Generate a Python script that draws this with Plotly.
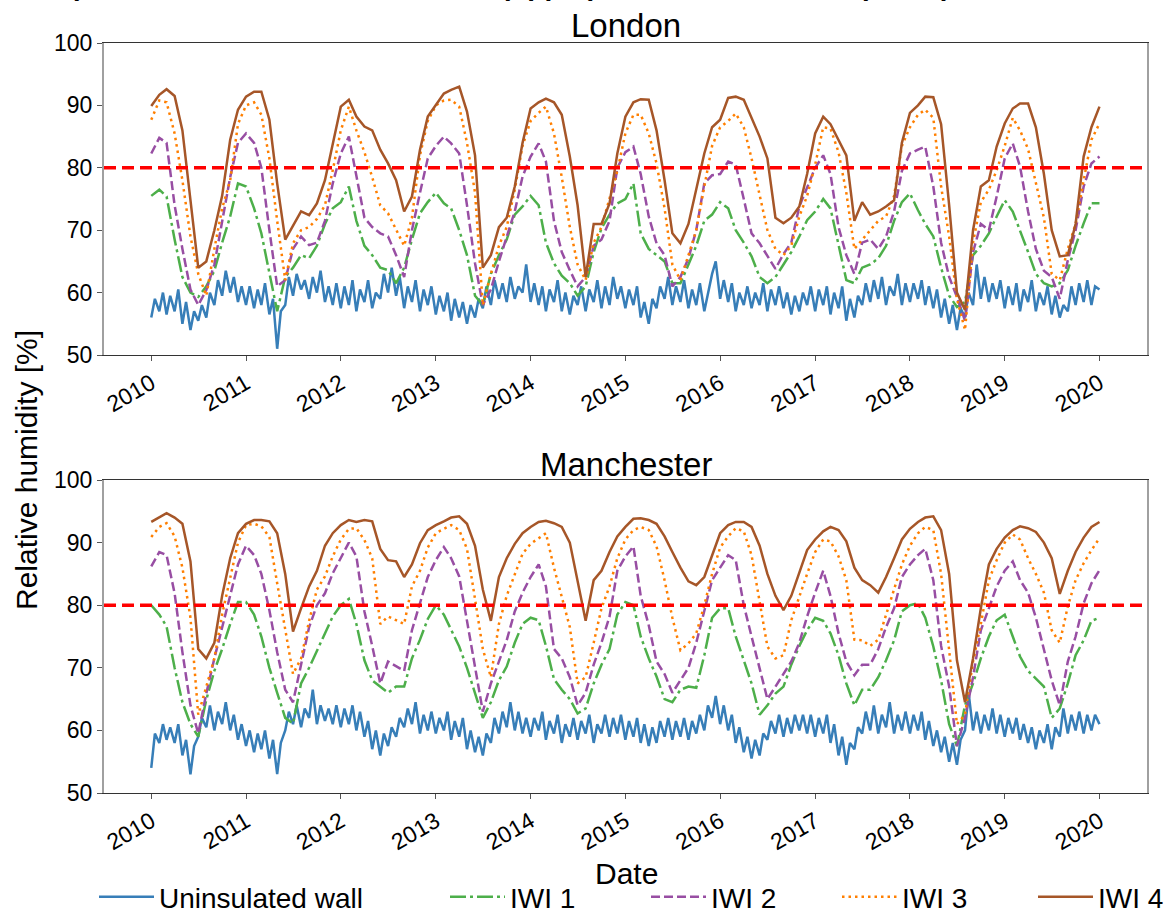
import pandas as pd
import plotly.graph_objects as go

# ---------------- data ----------------
months = pd.date_range("2010-01-01", periods=121, freq="MS")
half_months = pd.date_range("2010-01-01", periods=241, freq="SMS")

series_names = ["Uninsulated wall", "IWI 1", "IWI 2", "IWI 3", "IWI 4"]
year_ticks = [str(y) for y in range(2010, 2021)]
y_ticks = [50, 60, 70, 80, 90, 100]
threshold = 80

# ---- London ----
lon_uninsulated = [
    56.0, 59.0, 57.0, 60.0, 56.5, 59.5, 57.0, 60.5, 55.0, 58.5, 54.0, 57.0, 55.5, 58.0, 56.0, 60.0, 58.0, 62.0, 59.5, 63.5, 60.0, 62.5, 58.5, 61.0,
    58.0, 61.0, 57.5, 60.5, 58.0, 61.5, 56.5, 59.0, 51.0, 57.0, 58.0, 62.5, 59.5, 63.0, 60.5, 62.0, 59.0, 62.5, 60.0, 63.5, 58.5, 61.0, 58.0, 61.5,
    57.5, 61.0, 58.0, 62.0, 57.0, 60.5, 58.5, 62.0, 57.5, 60.0, 59.0, 63.0, 60.0, 64.0, 59.5, 62.5, 57.5, 61.0, 58.5, 62.0, 57.0, 60.5, 58.0, 61.0,
    56.5, 59.5, 57.0, 60.0, 55.5, 59.0, 56.0, 58.5, 55.0, 58.0, 56.0, 59.0, 57.5, 61.0, 58.0, 62.0, 59.0, 61.5, 58.5, 62.5, 59.0, 61.0, 60.0, 64.5,
    58.5, 61.5, 58.0, 61.0, 57.0, 60.5, 58.5, 62.0, 57.0, 60.0, 56.5, 59.5, 58.0, 61.0, 57.0, 60.5, 58.5, 62.0, 57.5, 61.0, 58.0, 62.5, 59.0, 61.0,
    57.5, 60.5, 58.0, 61.0, 56.0, 58.5, 55.0, 59.0, 57.5, 61.0, 59.0, 62.5, 58.0, 61.0, 58.5, 62.0, 57.5, 60.5, 58.0, 61.5, 57.0, 60.0, 63.0, 65.0,
    59.0, 62.0, 58.5, 61.5, 57.0, 60.0, 58.0, 61.0, 57.5, 60.0, 58.0, 61.5, 57.0, 60.5, 58.0, 61.0, 57.5, 60.0, 56.5, 59.5, 57.0, 60.0, 58.0, 61.0,
    57.0, 60.5, 58.0, 61.0, 56.5, 60.0, 57.5, 61.0, 55.5, 59.0, 56.0, 59.5, 58.0, 61.5, 58.5, 62.0, 59.0, 62.5, 58.0, 61.0, 59.5, 63.0, 58.0, 61.5,
    58.5, 61.5, 59.0, 62.0, 58.0, 61.0, 57.5, 60.5, 56.0, 59.0, 55.0, 58.0, 54.0, 57.5, 56.0, 60.0, 58.0, 64.5, 59.0, 62.5, 58.5, 61.5, 59.0, 62.0,
    57.5, 61.0, 58.0, 61.5, 57.0, 60.5, 58.5, 62.0, 57.0, 60.0, 58.0, 61.0, 56.5, 59.5, 56.0, 58.0, 57.0, 61.0, 58.0, 61.5, 58.5, 62.0, 58.0, 61.0,
    60.5,
]
lon_iwi1 = [
    75.5, 76.5, 75.4, 68.5, 62.5, 60.0, 59.3, 61.0, 63.5, 68.0, 72.2, 77.5,
    77.0, 73.5, 69.5, 63.0, 57.0, 62.5, 64.0, 66.0, 65.5, 67.5, 71.0, 73.5,
    74.5, 77.0, 71.5, 67.5, 66.0, 64.0, 63.6, 61.5, 64.0, 68.5, 72.7, 74.5,
    76.0, 74.3, 73.5, 70.0, 66.0, 59.5, 58.0, 63.0, 66.0, 68.5, 72.5, 73.8,
    75.5, 74.0, 68.0, 64.7, 62.7, 61.5, 59.5, 61.0, 66.5, 70.3, 72.5, 74.3,
    75.0, 77.5, 69.5, 67.0, 66.0, 65.0, 61.5, 61.5, 64.5, 67.5, 71.5, 72.5,
    74.5, 73.5, 70.0, 68.0, 65.8, 62.5, 61.5, 62.5, 64.5, 66.5, 69.0, 71.6,
    73.0, 75.0, 73.5, 67.5, 62.0, 61.5, 64.0, 64.5, 65.5, 67.5, 71.5, 74.5,
    75.9, 73.2, 71.0, 69.0, 64.0, 59.5, 57.7, 58.5, 66.0, 67.5, 69.5, 72.2,
    74.8, 73.0, 70.0, 66.5, 63.0, 61.5, 61.0, 61.5, 63.6, 67.5, 71.1, 74.3,
    74.3,
]
lon_iwi2 = [
    82.3, 84.8, 84.0, 74.0, 67.0, 60.5, 58.0, 60.4, 64.5, 71.5, 78.5, 84.0,
    85.5, 84.0, 80.0, 70.0, 61.0, 62.0, 67.0, 69.0, 67.6, 68.0, 71.5, 77.5,
    82.3, 85.0, 79.0, 72.0, 70.5, 69.5, 69.0, 66.0, 62.5, 70.0, 76.0, 81.5,
    83.5, 85.0, 83.9, 82.3, 74.0, 64.7, 58.0, 60.5, 65.0, 69.0, 73.0, 78.6,
    81.8, 83.9, 81.0, 71.5, 66.5, 63.6, 61.0, 62.5, 67.5, 68.5, 71.5, 80.0,
    82.5, 83.4, 79.0, 72.2, 67.9, 66.0, 61.0, 62.5, 65.5, 70.0, 77.5, 78.8,
    79.0, 81.0, 80.5, 75.0, 69.5, 67.9, 65.8, 63.8, 66.2, 68.0, 73.8, 77.0,
    80.0, 82.0, 79.0, 70.5, 66.0, 63.0, 68.0, 68.5, 67.0, 69.0, 73.0, 79.5,
    82.3, 82.9, 83.4, 77.0, 68.0, 62.5, 59.3, 55.5, 66.5, 71.0, 70.0, 75.4,
    81.5, 83.9, 80.2, 73.0, 67.0, 63.5, 62.5, 59.0, 65.2, 70.0, 77.0, 80.7,
    81.8,
]
lon_iwi3 = [
    87.7, 90.8, 90.5, 85.5, 78.0, 69.0, 63.0, 59.5, 67.0, 73.5, 78.0, 87.0,
    90.0, 90.5, 88.5, 81.5, 71.5, 62.0, 67.9, 70.0, 70.5, 71.8, 74.0, 79.6,
    86.0, 89.8, 86.0, 82.5, 78.5, 74.0, 72.7, 70.0, 67.5, 72.0, 82.0, 87.5,
    90.0, 90.8, 90.9, 89.8, 84.0, 76.0, 58.0, 63.0, 67.5, 70.5, 76.5, 83.5,
    87.5, 88.8, 89.8, 85.5, 78.5, 70.5, 64.5, 62.0, 68.0, 70.5, 75.0, 79.5,
    85.5, 88.5, 88.5, 85.5, 80.7, 73.5, 64.5, 62.0, 66.0, 70.0, 77.0, 83.5,
    86.5, 87.5, 88.7, 86.5, 81.5, 75.5, 70.0, 67.0, 66.0, 67.5, 72.2, 75.5,
    80.5, 86.5, 86.3, 82.5, 76.0, 67.0, 68.5, 70.0, 71.5, 72.2, 75.5, 83.5,
    86.5, 88.5, 89.3, 88.0, 77.0, 69.0, 59.0, 54.0, 68.0, 74.5, 76.5, 79.6,
    83.5, 88.0, 86.0, 83.0, 77.5, 72.0, 63.0, 62.0, 67.0, 71.0, 78.0, 84.5,
    87.1,
]
lon_iwi4 = [
    89.9, 91.7, 92.6, 91.5, 86.0, 74.5, 64.0, 65.0, 70.0, 75.5, 84.5, 89.3,
    91.4, 92.2, 92.2, 87.7, 77.5, 68.5, 70.6, 73.0, 72.4, 74.3, 78.0, 83.9,
    89.8, 90.9, 88.2, 86.6, 86.0, 82.9, 80.7, 78.0, 73.0, 75.4, 82.9, 88.2,
    90.0, 91.9, 92.5, 93.0, 89.0, 82.0, 64.0, 66.0, 70.5, 72.0, 77.0, 84.0,
    89.5, 90.5, 91.1, 90.5, 88.5, 81.8, 74.0, 62.5, 71.0, 71.0, 74.3, 82.3,
    88.2, 90.5, 91.0, 90.9, 86.0, 78.0, 69.5, 67.9, 71.0, 76.5, 82.3, 86.5,
    87.7, 91.2, 91.4, 90.9, 88.0, 85.0, 81.5, 72.0, 71.1, 72.0, 73.8, 79.0,
    85.5, 88.2, 87.0, 84.5, 82.0, 71.5, 74.5, 72.5, 73.0, 73.8, 74.8, 84.0,
    88.8, 90.0, 91.4, 91.3, 87.0, 74.0, 60.0, 57.2, 70.0, 77.0, 78.0, 83.4,
    87.1, 89.5, 90.3, 90.3, 86.5, 79.0, 70.0, 65.8, 66.0, 71.0, 81.8, 86.5,
    89.8,
]

# ---- Manchester ----
man_uninsulated = [
    54.0, 59.5, 58.0, 61.0, 58.5, 60.5, 58.0, 61.0, 56.0, 58.5, 53.0, 57.5, 59.0, 62.0, 60.5, 64.0, 60.0, 63.0, 61.0, 64.5, 60.0, 62.5, 58.5, 61.0,
    57.5, 60.0, 56.5, 59.5, 57.0, 60.0, 55.5, 58.5, 53.0, 58.0, 60.0, 63.0, 61.0, 64.0, 60.5, 63.5, 62.0, 66.5, 61.0, 64.0, 61.5, 63.5, 61.0, 64.0,
    60.5, 63.5, 61.0, 64.0, 60.0, 63.0, 59.0, 61.5, 57.0, 60.0, 56.0, 59.5, 57.5, 60.5, 59.0, 62.0, 60.5, 63.5, 61.0, 64.5, 59.5, 62.5, 60.0, 63.0,
    59.5, 62.0, 60.0, 63.0, 58.5, 61.5, 59.0, 62.0, 57.0, 60.0, 56.5, 59.0, 56.0, 59.5, 58.0, 62.0, 59.5, 63.0, 60.5, 64.5, 60.0, 63.0, 59.5, 62.0,
    59.0, 62.0, 60.0, 63.0, 58.5, 61.5, 59.5, 62.5, 58.0, 61.0, 59.0, 62.0, 58.5, 61.5, 59.5, 62.5, 58.0, 61.0, 59.5, 62.5, 59.0, 62.0, 59.5, 62.5,
    58.5, 61.5, 59.0, 62.0, 58.0, 61.0, 57.5, 60.5, 58.0, 61.5, 59.0, 62.0, 58.5, 61.5, 59.0, 62.0, 58.5, 61.5, 59.5, 62.5, 60.0, 64.0, 62.0, 65.5,
    61.0, 64.0, 60.0, 62.5, 58.0, 60.5, 56.5, 59.0, 55.5, 58.5, 56.0, 59.5, 58.5, 61.5, 59.5, 62.5, 59.0, 62.0, 59.5, 62.5, 60.0, 62.5, 59.5, 62.5,
    59.0, 62.0, 59.5, 62.5, 58.0, 61.0, 56.0, 59.0, 54.5, 58.0, 57.0, 60.5, 59.5, 63.0, 60.0, 64.0, 59.5, 62.5, 60.5, 64.5, 59.5, 62.5, 60.0, 63.0,
    59.5, 62.5, 60.0, 63.0, 58.5, 61.5, 57.5, 60.0, 56.5, 59.0, 55.0, 58.0, 54.5, 58.5, 60.0, 66.0, 60.0, 63.0, 59.5, 62.5, 60.0, 63.5, 59.5, 62.5,
    59.0, 62.0, 59.5, 62.0, 58.5, 61.0, 58.0, 60.5, 57.0, 60.0, 58.0, 61.0, 57.0, 60.5, 59.0, 63.5, 59.5, 62.5, 60.0, 63.0, 59.5, 62.5, 60.0, 62.5,
    61.0,
]
man_iwi1 = [
    80.0, 78.5, 76.6, 70.0, 64.5, 61.0, 59.0, 64.9, 69.5, 73.0, 77.0, 80.5,
    80.5, 78.5, 75.0, 70.0, 66.0, 62.0, 61.1, 67.5, 70.0, 72.8, 75.5, 78.2,
    80.0, 81.0, 77.0, 71.2, 68.0, 67.0, 66.0, 67.0, 67.0, 71.5, 74.5, 77.8,
    80.0, 78.5, 76.0, 73.4, 70.0, 66.0, 62.0, 64.5, 68.0, 70.2, 74.0, 77.0,
    78.0, 77.6, 73.5, 68.2, 66.5, 65.0, 62.7, 63.5, 67.5, 70.5, 73.0, 78.5,
    80.5, 80.0, 75.0, 71.5, 68.6, 65.0, 64.5, 66.5, 67.0, 66.8, 72.0, 78.0,
    79.5, 79.5, 75.0, 71.2, 67.5, 62.5, 64.0, 65.9, 67.0, 70.5, 73.5, 76.0,
    78.0, 77.5, 75.5, 72.0, 67.5, 64.0, 66.5, 66.5, 68.5, 71.2, 74.4, 79.0,
    80.0, 80.3, 78.0, 73.4, 68.0, 61.0, 57.5, 64.0, 67.5, 71.5, 75.0, 77.6,
    78.5, 75.0, 71.8, 69.5, 68.3, 67.0, 62.0, 63.5, 67.5, 72.0, 74.4, 77.5,
    78.0,
]
man_iwi2 = [
    86.2, 88.5, 88.0, 81.9, 72.5, 64.0, 59.5, 65.9, 71.5, 76.5, 81.5, 86.5,
    89.5, 88.0, 85.0, 79.2, 72.5, 66.5, 64.5, 70.5, 76.5, 80.0, 81.9, 85.1,
    87.5, 90.0, 87.8, 79.0, 73.5, 67.5, 71.0, 70.2, 69.5, 76.0, 80.5, 84.5,
    87.2, 89.3, 87.5, 84.6, 77.5, 70.0, 63.0, 67.5, 71.0, 74.4, 79.0, 82.0,
    84.5, 86.5, 83.0, 73.0, 71.5, 68.5, 64.0, 66.0, 70.5, 74.0, 78.2, 85.5,
    87.8, 89.4, 81.5, 76.8, 71.0, 69.0, 66.0, 68.1, 70.0, 74.0, 79.0, 84.0,
    86.0, 88.0, 87.2, 80.0, 75.0, 70.0, 65.0, 67.0, 69.1, 71.0, 74.0, 78.2,
    82.0, 85.5, 81.5, 75.5, 71.0, 68.8, 70.5, 70.5, 73.0, 76.5, 79.5, 84.5,
    86.5, 88.0, 89.0, 84.0, 73.5, 67.0, 57.5, 62.0, 68.5, 76.0, 79.5, 83.0,
    85.5, 87.0, 84.0, 82.0, 78.0, 73.0, 68.0, 64.0, 71.0, 75.0, 80.3, 83.5,
    85.6,
]
man_iwi3 = [
    90.9, 92.5, 93.1, 91.0, 86.0, 78.0, 62.5, 67.0, 71.5, 78.5, 84.6, 90.0,
    92.8, 93.0, 92.6, 90.9, 83.5, 76.0, 69.0, 71.5, 77.5, 82.5, 84.6, 87.8,
    90.5, 92.2, 92.3, 90.4, 87.5, 77.0, 78.2, 77.6, 77.0, 83.0, 85.5, 89.2,
    91.5, 92.2, 92.8, 92.0, 89.0, 81.0, 73.0, 68.5, 77.0, 81.5, 85.0, 88.2,
    89.8, 90.7, 91.5, 86.0, 81.5, 76.5, 67.5, 68.5, 74.0, 79.5, 83.0, 87.5,
    90.5, 92.0, 92.5, 92.0, 89.4, 84.0, 78.0, 72.8, 73.9, 75.5, 80.0, 85.0,
    89.2, 91.0, 92.3, 91.8, 88.0, 80.8, 73.4, 71.5, 72.0, 77.6, 81.4, 85.0,
    88.5, 90.5, 90.2, 87.8, 84.0, 74.5, 74.4, 73.5, 74.5, 78.5, 82.5, 86.5,
    89.5, 91.5, 92.5, 92.0, 85.0, 73.0, 61.0, 62.5, 71.0, 77.0, 84.0, 87.2,
    90.0, 91.3, 90.5, 87.5, 85.0, 82.0, 76.0, 74.0, 79.8, 84.0, 86.7, 88.8,
    90.7,
]
man_iwi4 = [
    93.3, 94.0, 94.7, 94.0, 93.0, 87.0, 73.0, 71.5, 74.0, 81.5, 87.5, 91.5,
    93.0, 93.6, 93.6, 93.4, 91.5, 85.0, 75.8, 79.5, 83.0, 85.5, 89.5, 91.5,
    92.8, 93.6, 93.3, 93.6, 93.4, 89.0, 87.2, 87.0, 84.5, 86.5, 89.9, 92.0,
    92.8, 93.4, 94.0, 94.2, 93.0, 89.5, 82.5, 77.5, 84.5, 87.5, 89.8, 91.5,
    92.5, 93.3, 93.5, 93.1, 92.5, 90.0, 84.0, 77.5, 84.0, 85.5, 88.5, 91.0,
    92.5, 93.8, 93.9, 93.6, 93.0, 91.0, 88.5, 86.0, 83.8, 83.2, 84.5, 88.0,
    91.5, 92.8, 93.3, 93.3, 92.5, 89.5, 85.0, 81.5, 79.2, 81.5, 85.1, 88.8,
    90.5, 91.8, 92.5, 92.0, 90.2, 86.0, 84.0, 83.2, 82.0, 84.5, 87.5, 90.5,
    92.2, 93.3, 94.0, 94.2, 92.0, 85.0, 71.2, 64.5, 71.5, 79.5, 86.5, 89.0,
    90.8, 92.0, 92.6, 92.3, 91.7, 90.0, 87.5, 81.8, 85.5, 88.5, 90.8, 92.5,
    93.3,
]

# ---------------- styling ----------------
FONT = "Liberation Sans, Arial, sans-serif"
W, H = 1165, 922
colors = ["#377eb8", "#4daf4a", "#984ea3", "#ff7f00", "#a65628"]
dashes = ["solid", "16px,4px,3px,4px", "9px,4px", "2.5px,4px", "solid"]
legend_ids = ["legend", "legend2", "legend3", "legend4", "legend5"]
legend_text_x = [164, 515, 716, 907, 1103]
ITEM_W = 55

x_left, x_right = 104, 1147
top_dom = [1 - 355 / H, 1 - 43 / H]
bot_dom = [1 - 793 / H, 1 - 480 / H]

fig = go.Figure()

cities = [
    ("x", "y", [lon_uninsulated, lon_iwi1, lon_iwi2, lon_iwi3, lon_iwi4], True),
    ("x2", "y2", [man_uninsulated, man_iwi1, man_iwi2, man_iwi3, man_iwi4], False),
]
for xa, ya, vals, show in cities:
    for i, name in enumerate(series_names):
        xs = half_months if i == 0 else months
        fig.add_trace(go.Scatter(
            x=xs, y=vals[i], mode="lines", name=name,
            line=dict(color=colors[i], width=2.5, dash=dashes[i]),
            xaxis=xa, yaxis=ya, showlegend=show, legend=legend_ids[i],
            hoverinfo="skip",
        ))

year_vals = [f"{y}-01-01" for y in year_ticks]
xcommon = dict(
    range=["2009-07-03", "2020-07-02"], tickmode="array", tickvals=year_vals,
    ticktext=year_ticks, tickangle=-30, showgrid=False, zeroline=False,
    showline=True, mirror=True, linecolor="#333333", linewidth=1.3,
    ticks="outside", ticklen=5, tickcolor="#555555",
    tickfont=dict(family=FONT, size=23, color="black"),
    domain=[x_left / W, x_right / W],
)
ycommon = dict(
    range=[50, 100], tickmode="array", tickvals=y_ticks, showgrid=False,
    zeroline=False, showline=True, mirror=True, linecolor="#a0a0a0",
    linewidth=2, ticks="outside", ticklen=5, tickcolor="#555555",
    tickfont=dict(family=FONT, size=23, color="black"),
)

layout = dict(
    width=W, height=H, autosize=False,
    margin=dict(l=0, r=0, t=0, b=0, autoexpand=False),
    paper_bgcolor="white", plot_bgcolor="white",
    font=dict(family=FONT, color="black"),
    xaxis=dict(xcommon, anchor="y"),
    yaxis=dict(ycommon, anchor="x", domain=top_dom),
    xaxis2=dict(xcommon, anchor="y2"),
    yaxis2=dict(ycommon, anchor="x2", domain=bot_dom),
    shapes=[
        dict(type="line", xref="x domain", yref="y", x0=0, x1=1, y0=threshold, y1=threshold,
             line=dict(color="red", width=3.5, dash="12px,6px"), layer="above"),
        dict(type="line", xref="x2 domain", yref="y2", x0=0, x1=1, y0=threshold, y1=threshold,
             line=dict(color="red", width=3.5, dash="12px,6px"), layer="above"),
    ],
    annotations=[
        dict(text="a), Interface RH levels in London (upper) and in Manchester (lower)",
             xref="paper", yref="paper", x=57 / W, y=1 - 3 / H, xanchor="left", yanchor="bottom",
             showarrow=False, font=dict(family=FONT, size=28, color="black", weight="bold")),
        dict(text="London", xref="paper", yref="paper", x=(x_left + x_right) / 2 / W,
             y=1 - 26 / H, xanchor="center", yanchor="middle", showarrow=False,
             font=dict(family=FONT, size=33, color="black")),
        dict(text="Manchester", xref="paper", yref="paper", x=(x_left + x_right) / 2 / W,
             y=1 - 464 / H, xanchor="center", yanchor="middle", showarrow=False,
             font=dict(family=FONT, size=33, color="black")),
        dict(text="Relative humidity [%]", xref="paper", yref="paper", x=26 / W,
             y=1 - 470 / H, xanchor="center", yanchor="middle", textangle=-90,
             showarrow=False, font=dict(family=FONT, size=30, color="black")),
        dict(text="Date", xref="paper", yref="paper", x=626 / W, y=1 - 873 / H,
             xanchor="center", yanchor="middle", showarrow=False,
             font=dict(family=FONT, size=30, color="black")),
    ],
)
for lid, tx in zip(legend_ids, legend_text_x):
    layout[lid] = dict(
        x=(tx - ITEM_W - 15) / W, y=0, xanchor="left", yanchor="bottom", orientation="h",
        bgcolor="rgba(0,0,0,0)", borderwidth=0, itemwidth=ITEM_W,
        font=dict(family=FONT, size=28, color="black"),
    )

fig.update_layout(**layout)
fig.write_html("out.html")
